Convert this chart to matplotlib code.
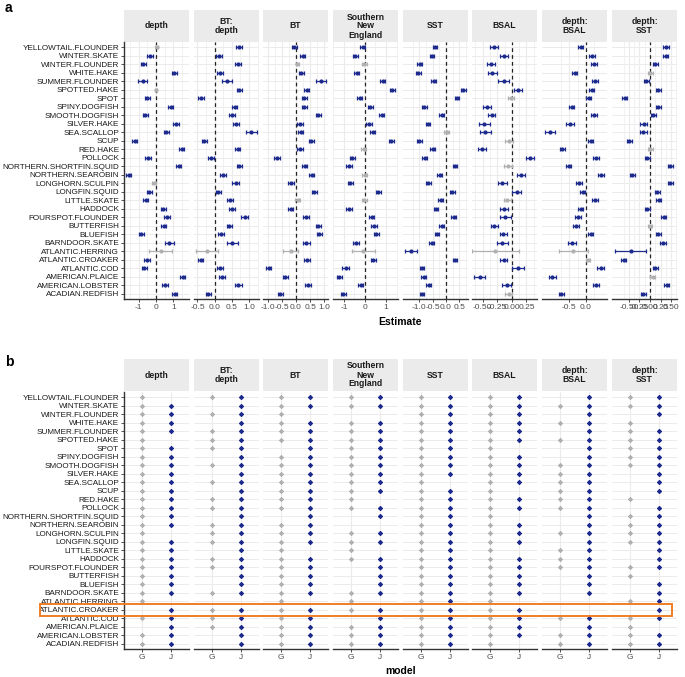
import matplotlib.pyplot as plt
import matplotlib.transforms as mtransforms
from matplotlib.patches import Rectangle
import numpy as np

plt.rcParams["font.family"] = ["Liberation Sans", "DejaVu Sans"]

# === DATA ===
species = ["YELLOWTAIL.FLOUNDER", "WINTER.SKATE", "WINTER.FLOUNDER", "WHITE.HAKE",
           "SUMMER.FLOUNDER", "SPOTTED.HAKE", "SPOT", "SPINY.DOGFISH", "SMOOTH.DOGFISH",
           "SILVER.HAKE", "SEA.SCALLOP", "SCUP", "RED.HAKE", "POLLOCK",
           "NORTHERN.SHORTFIN.SQUID", "NORTHERN.SEAROBIN", "LONGHORN.SCULPIN",
           "LONGFIN.SQUID", "LITTLE.SKATE", "HADDOCK", "FOURSPOT.FLOUNDER", "BUTTERFISH",
           "BLUEFISH", "BARNDOOR.SKATE", "ATLANTIC.HERRING", "ATLANTIC.CROAKER",
           "ATLANTIC.COD", "AMERICAN.PLAICE", "AMERICAN.LOBSTER", "ACADIAN.REDFISH"]

facets = ["depth", "BT:\ndepth", "BT", "Southern\nNew\nEngland", "SST", "BSAL",
          "depth:\nBSAL", "depth:\nSST"]
models = ["G", "J"]

# panel a: joint model estimates and CI half widths (rows top -> bottom)
est_depth = [0.04, -0.35, -0.73, 1.06, -0.77, 0.0, -0.5, 0.85, -0.62, 1.13, 0.58, -1.23, 1.48, -0.46, 1.31,
             -1.58, -0.12, -0.38, -0.6, 0.42, 0.62, 0.44, -0.85, 0.77, 0.27, -0.52, -0.67, 1.54, 0.5, 1.08]
ci_depth = [0.08, 0.15, 0.15, 0.15, 0.25, 0.08, 0.15, 0.15, 0.15, 0.18, 0.15, 0.15, 0.15, 0.15, 0.15,
            0.15, 0.13, 0.15, 0.15, 0.15, 0.18, 0.15, 0.15, 0.25, 0.65, 0.15, 0.15, 0.15, 0.18, 0.15]
est_btd = [0.71, 0.13, 0.68, 0.15, 0.36, 0.72, -0.40, 0.58, 0.50, 0.61, 1.07, -0.30, 0.67, -0.10, 0.72,
           0.24, 0.61, 0.11, 0.44, 0.51, 0.87, 0.43, 0.19, 0.51, -0.22, -0.40, 0.15, 0.22, 0.69, -0.19]
ci_btd = [0.08, 0.08, 0.08, 0.08, 0.14, 0.08, 0.08, 0.08, 0.08, 0.09, 0.15, 0.08, 0.08, 0.09, 0.08,
          0.08, 0.10, 0.08, 0.08, 0.08, 0.10, 0.08, 0.08, 0.16, 0.31, 0.07, 0.08, 0.08, 0.10, 0.07]
est_bt = [-0.07, 0.23, 0.05, 0.18, 0.88, 0.38, 0.29, 0.30, 0.80, 0.15, 0.17, 0.55, 0.14, -0.68, 0.31,
          0.56, -0.18, 0.65, 0.06, -0.19, 0.36, 0.79, 0.82, 0.36, -0.19, 0.39, -0.98, -0.39, 0.43, -0.56]
ci_bt = [0.09, 0.09, 0.06, 0.09, 0.18, 0.09, 0.09, 0.09, 0.09, 0.10, 0.09, 0.09, 0.09, 0.09, 0.09,
         0.09, 0.09, 0.09, 0.09, 0.09, 0.10, 0.09, 0.09, 0.12, 0.26, 0.09, 0.09, 0.09, 0.12, 0.09]
est_sne = [-0.11, -0.46, -0.03, -0.40, 0.84, 1.30, -0.24, 0.25, 0.79, 0.19, 0.37, 1.24, -0.05, -0.60, -0.76,
           0.0, -0.71, 0.63, -0.03, -0.76, 0.33, 0.43, 0.54, -0.43, -0.08, 0.40, -0.92, -1.22, -0.21, -1.03]
ci_sne = [0.12, 0.12, 0.12, 0.12, 0.12, 0.12, 0.12, 0.12, 0.12, 0.15, 0.12, 0.12, 0.12, 0.12, 0.12,
          0.12, 0.12, 0.12, 0.12, 0.12, 0.12, 0.12, 0.12, 0.16, 0.55, 0.12, 0.15, 0.12, 0.13, 0.12]
est_sst = [-0.41, -0.52, -0.99, -1.04, -0.46, 0.66, 0.42, -0.81, -0.15, -0.67, 0.03, -1.00, -0.49, -0.80, 0.34,
           -0.23, -0.66, 0.24, -0.20, -0.37, 0.29, -0.16, -0.33, -0.54, -1.32, 0.34, -0.90, -0.84, -0.65, -0.90]
ci_sst = [0.09, 0.09, 0.09, 0.09, 0.09, 0.09, 0.09, 0.09, 0.09, 0.09, 0.09, 0.09, 0.09, 0.09, 0.09,
          0.09, 0.10, 0.09, 0.09, 0.09, 0.09, 0.09, 0.09, 0.09, 0.22, 0.09, 0.09, 0.09, 0.09, 0.09]
est_bsal = [-0.31, -0.14, -0.35, -0.33, -0.14, 0.10, -0.01, -0.43, -0.34, -0.47, -0.45, -0.05, -0.51, 0.31, -0.07,
            0.15, -0.16, 0.08, -0.08, -0.13, -0.11, -0.30, -0.15, -0.16, -0.28, -0.14, 0.10, -0.55, -0.09, -0.05]
ci_bsal = [0.07, 0.07, 0.07, 0.07, 0.09, 0.07, 0.05, 0.07, 0.06, 0.09, 0.09, 0.07, 0.07, 0.07, 0.07,
           0.07, 0.07, 0.07, 0.06, 0.07, 0.09, 0.06, 0.06, 0.10, 0.40, 0.06, 0.10, 0.09, 0.08, 0.06]
est_dbsal = [-0.16, 0.18, 0.24, -0.34, 0.27, 0.17, 0.08, -0.43, 0.24, -0.48, -1.08, 0.14, -0.71, 0.30, -0.52,
             0.45, -0.21, -0.10, 0.27, -0.16, -0.24, -0.30, 0.14, -0.42, -0.38, 0.07, 0.44, -1.01, 0.30, -0.74]
ci_dbsal = [0.08, 0.08, 0.08, 0.08, 0.08, 0.08, 0.08, 0.08, 0.08, 0.13, 0.15, 0.08, 0.08, 0.08, 0.08,
            0.08, 0.08, 0.08, 0.08, 0.08, 0.08, 0.08, 0.08, 0.13, 0.44, 0.06, 0.10, 0.10, 0.08, 0.08]
est_dsst = [0.38, 0.37, 0.12, 0.01, -0.09, 0.20, -0.60, 0.20, 0.08, -0.15, -0.16, -0.49, 0.01, -0.06, 0.48,
            -0.42, 0.48, 0.17, 0.21, -0.06, 0.33, 0.0, 0.20, 0.30, -0.46, -0.62, 0.12, 0.06, 0.40, -0.16]
ci_dsst = [0.06, 0.06, 0.06, 0.05, 0.06, 0.06, 0.06, 0.06, 0.06, 0.08, 0.08, 0.06, 0.05, 0.06, 0.06,
           0.06, 0.06, 0.06, 0.06, 0.06, 0.06, 0.05, 0.06, 0.07, 0.37, 0.06, 0.06, 0.05, 0.06, 0.06]

# panel b: significant in model G / J (1 = shown); J also sets the colour in panel a
g_depth = [1, 1, 1, 1, 1, 1, 1, 1, 1, 1, 1, 1, 1, 1, 1, 1, 1, 1, 1, 1, 1, 1, 1, 1, 1, 0, 1, 0, 1, 1]
j_depth = [0, 1, 1, 1, 1, 0, 1, 1, 1, 1, 1, 1, 1, 1, 1, 1, 0, 1, 1, 1, 1, 1, 1, 1, 0, 1, 1, 1, 1, 1]
g_btd = [1, 0, 1, 0, 1, 1, 1, 0, 1, 0, 1, 0, 1, 1, 0, 1, 1, 1, 0, 1, 1, 0, 0, 1, 0, 1, 1, 1, 0, 0]
j_btd = [1, 1, 1, 1, 1, 1, 1, 1, 1, 1, 1, 1, 1, 1, 1, 1, 1, 1, 1, 1, 1, 1, 1, 1, 0, 1, 1, 1, 1, 1]
g_bt = [1, 1, 1, 1, 1, 1, 0, 1, 1, 1, 1, 1, 1, 1, 0, 1, 1, 1, 1, 1, 1, 1, 1, 1, 1, 1, 1, 1, 1, 1]
j_bt = [1, 1, 0, 1, 1, 1, 1, 1, 1, 1, 1, 1, 1, 1, 1, 1, 1, 1, 0, 1, 1, 1, 1, 1, 0, 1, 1, 1, 1, 1]
g_sne = [1, 1, 0, 1, 1, 1, 1, 1, 1, 1, 1, 1, 1, 1, 0, 0, 1, 1, 1, 1, 0, 0, 0, 1, 1, 1, 0, 1, 1, 1]
j_sne = [1, 1, 0, 1, 1, 1, 1, 1, 1, 1, 1, 1, 0, 1, 1, 0, 1, 1, 0, 1, 1, 1, 1, 1, 0, 1, 1, 1, 1, 1]
g_sst = [1, 1, 1, 1, 1, 1, 1, 1, 1, 1, 1, 1, 1, 1, 1, 1, 1, 1, 1, 1, 1, 1, 1, 1, 1, 1, 1, 1, 1, 1]
j_sst = [1, 1, 1, 1, 1, 1, 1, 1, 1, 1, 0, 1, 1, 1, 1, 1, 1, 1, 1, 1, 1, 1, 1, 1, 1, 1, 1, 1, 1, 1]
g_bsal = [1, 1, 1, 1, 1, 1, 1, 1, 1, 1, 1, 1, 1, 1, 1, 1, 1, 1, 1, 1, 1, 1, 1, 1, 1, 1, 1, 1, 1, 1]
j_bsal = [1, 1, 1, 1, 1, 1, 0, 1, 1, 1, 1, 0, 1, 1, 0, 1, 1, 1, 0, 1, 1, 1, 1, 1, 0, 1, 1, 1, 1, 0]
g_dbsal = [0, 1, 0, 1, 0, 1, 0, 0, 1, 1, 1, 1, 1, 1, 0, 0, 1, 0, 1, 1, 1, 0, 0, 0, 0, 0, 1, 0, 1, 1]
j_dbsal = [1, 1, 1, 1, 1, 1, 1, 1, 1, 1, 1, 1, 1, 1, 1, 1, 1, 1, 1, 1, 1, 1, 1, 1, 0, 0, 1, 1, 1, 1]
g_dsst = [1, 1, 0, 1, 1, 1, 1, 1, 1, 0, 0, 0, 1, 0, 1, 1, 1, 1, 0, 0, 1, 1, 0, 0, 1, 0, 1, 1, 1, 1]
j_dsst = [1, 1, 1, 0, 1, 1, 1, 1, 1, 1, 1, 1, 0, 1, 1, 1, 1, 1, 1, 1, 1, 0, 1, 1, 1, 1, 1, 0, 1, 1]

est_list = [est_depth, est_btd, est_bt, est_sne, est_sst, est_bsal, est_dbsal, est_dsst]
ci_list = [ci_depth, ci_btd, ci_bt, ci_sne, ci_sst, ci_bsal, ci_dbsal, ci_dsst]
g_list = [g_depth, g_btd, g_bt, g_sne, g_sst, g_bsal, g_dbsal, g_dsst]
j_list = [j_depth, j_btd, j_bt, j_sne, j_sst, j_bsal, j_dbsal, j_dsst]

# x axis setup of panel a facets
xlims = [(-1.85, 1.9), (-0.6, 1.29), (-1.18, 1.14), (-1.52, 1.57),
         (-1.61, 0.83), (-0.68, 0.43), (-1.32, 0.63), (-0.9, 0.64)]
xticks = [[-1, 0, 1], [-0.5, 0.0, 0.5, 1.0], [-1.0, -0.5, 0.0, 0.5, 1.0], [-1, 0, 1],
          [-1.0, -0.5, 0.0, 0.5], [-0.5, -0.25, 0.0, 0.25], [-0.5, 0.0],
          [-0.5, -0.25, 0.0, 0.25, 0.5]]
xticklabels = [["-1", "0", "1"], ["-0.5", "0.0", "0.5", "1.0"], ["-1.0", "-0.5", "0.0", "0.5", "1.0"],
               ["-1", "0", "1"], ["-1.0", "-0.5", "0.0", "0.5"], ["-0.50", "-0.25", "0.00", "0.25"],
               ["-0.5", "0.0"], ["-0.50", "-0.25", "0.00", "0.25", "0.50"]]

BLUE = "#1B2A8C"
GREY = "#B0B0B0"
GRID = "#EBEBEB"
STRIP = "#EBEBEB"

W, H = 685, 677
fig = plt.figure(figsize=(W / 100, H / 100), dpi=100)

lefts = [124, 194, 263, 333, 403, 472, 542, 612]
fw = 65
n = len(species)
ypos = np.arange(n)


def fr(x0, y0, w, h):
    return [x0 / W, 1 - (y0 + h) / H, w / W, h / H]


def style_axes(ax, i):
    ax.set_facecolor("white")
    for s in ["top", "right", "left"]:
        ax.spines[s].set_visible(False)
    ax.spines["bottom"].set_color("#333333")
    ax.spines["bottom"].set_linewidth(1.0)
    ax.set_ylim(n - 0.4, -0.6)
    ax.set_yticks(ypos)
    for y in ypos:
        ax.axhline(y, color=GRID, lw=0.7, zorder=0)
    ax.tick_params(axis="x", length=2, width=0.6, colors="#333333", labelsize=6, pad=1.5,
                   labelcolor="#4D4D4D")
    if i == 0:
        ax.spines["left"].set_visible(True)
        ax.spines["left"].set_color("#333333")
        ax.spines["left"].set_linewidth(1.0)
        ax.set_yticklabels(species, fontsize=5.9, color="#1A1A1A")
        ax.tick_params(axis="y", length=2, width=0.6, colors="#333333", pad=1.5,
                       labelcolor="#1A1A1A")
    else:
        ax.set_yticklabels([])
        ax.tick_params(axis="y", length=0)


def strip(y0, i):
    sax = fig.add_axes(fr(lefts[i], y0, fw, 32))
    sax.set_facecolor(STRIP)
    sax.set_xticks([])
    sax.set_yticks([])
    for s in sax.spines.values():
        s.set_visible(False)
    sax.text(0.5, 0.5, facets[i], ha="center", va="center", fontsize=6.2, fontweight="bold",
             linespacing=1.0, transform=sax.transAxes, color="#1A1A1A")


# === PANEL a ===
for i in range(8):
    strip(10, i)
    ax = fig.add_axes(fr(lefts[i], 42, fw, 257))
    style_axes(ax, i)
    ax.set_xlim(*xlims[i])
    ax.set_xticks(xticks[i])
    ax.set_xticklabels(xticklabels[i])
    t = xticks[i]
    step = t[1] - t[0]
    minors = np.arange(t[0] - step / 2, xlims[i][1], step)
    for m in minors:
        ax.axvline(m, color=GRID, lw=0.5, zorder=0)
    for m in t:
        ax.axvline(m, color=GRID, lw=0.8, zorder=0)
    ax.axvline(0, color="#222222", lw=0.9, ls=(0, (3, 2.5)), zorder=1)
    for k in range(n):
        c = BLUE if j_list[i][k] else GREY
        ax.errorbar(est_list[i][k], k, xerr=ci_list[i][k], fmt="o", color=c, ms=2.0,
                    elinewidth=0.9, capsize=1.6, capthick=0.9, zorder=3)

fig.text(400 / W, 1 - 322 / H, "Estimate", ha="center", va="center", fontsize=7.5,
         fontweight="bold")
fig.text(5 / W, 1 - 8 / H, "a", ha="left", va="center", fontsize=10, fontweight="bold")

# === PANEL b ===
first_b = None
for i in range(8):
    strip(359, i)
    ax = fig.add_axes(fr(lefts[i], 392, fw, 257))
    if first_b is None:
        first_b = ax
    style_axes(ax, i)
    ax.set_xlim(0.4, 2.6)
    ax.set_xticks([1, 2])
    ax.set_xticklabels(models)
    for m in [1, 2]:
        ax.axvline(m, color=GRID, lw=0.8, zorder=0)
    gy = [k for k in range(n) if g_list[i][k]]
    jy = [k for k in range(n) if j_list[i][k]]
    ax.plot([1] * len(gy), gy, ls="none", marker=(8, 2, 0), ms=3.2, mew=0.55, color=GREY, zorder=3)
    ax.plot([2] * len(jy), jy, ls="none", marker=(8, 2, 0), ms=3.2, mew=0.7, color=BLUE, zorder=3)
    ax.plot([2] * len(jy), jy, ls="none", marker="o", ms=1.4, mew=0, color=BLUE, zorder=4)

fig.text(5 / W, 1 - 362 / H, "b", ha="left", va="center", fontsize=10, fontweight="bold")
fig.text(401 / W, 1 - 671 / H, "model", ha="center", va="center", fontsize=7.5, fontweight="bold")

# highlight box round ATLANTIC.CROAKER
row = species.index("ATLANTIC.CROAKER")
trans = mtransforms.blended_transform_factory(fig.transFigure, first_b.transData)
box = Rectangle((40 / W, row - 0.68), 632 / W, 1.36, transform=trans, fill=False,
                edgecolor="#F07E26", lw=1.4, clip_on=False, zorder=10)
fig.add_artist(box)

plt.savefig("out.png", dpi=100)
plt.close()
